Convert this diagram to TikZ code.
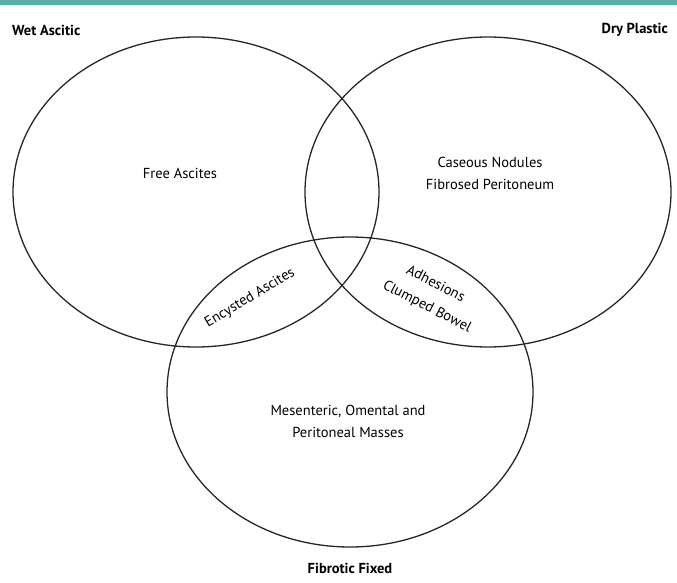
\documentclass[tikz,border=0pt]{standalone}
\usepackage{fontspec}
\setmainfont{PT Sans}
\definecolor{barteal}{RGB}{88,174,164}
\begin{document}
\begin{tikzpicture}[x=1pt,y=-1pt]
\useasboundingbox (0,0) rectangle (677,583);
\fill[barteal] (0,0) rectangle (677,5);
\draw[line width=1.3pt, black!85] (196,192) ellipse [x radius=183, y radius=155];
\draw[line width=1.3pt, black!85] (488,192) ellipse [x radius=183, y radius=155];
\draw[line width=1.3pt, black!85] (350,392) ellipse [x radius=183, y radius=155];
\node[font=\bfseries\fontsize{14.5}{17}\selectfont, anchor=west, inner sep=0pt] (wet) at (12,30){Wet Ascitic};
\node[font=\bfseries\fontsize{14.5}{17}\selectfont, anchor=east, inner sep=0pt] (dry) at (668,30){Dry Plastic};
\node[font=\bfseries\fontsize{14.5}{17}\selectfont] (fib) at (350,568){Fibrotic Fixed};
\node[font=\fontsize{14.5}{22}\selectfont] (free) at (180,173){Free Ascites};
\node[font=\fontsize{14.5}{22}\selectfont, align=center] (cas) at (490,173){Caseous Nodules\\Fibrosed Peritoneum};
\node[font=\fontsize{14.5}{22}\selectfont, align=center] (mes) at (348,421){Mesenteric, Omental and\\Peritoneal Masses};
\node[font=\fontsize{14.5}{22}\selectfont, rotate=31, inner sep=0pt] (enc) at (250,298){Encysted Ascites};
\node[font=\fontsize{14.5}{22}\selectfont, rotate=-27, inner sep=0pt] (adh) at (436,283){Adhesions};
\node[font=\fontsize{14.5}{22}\selectfont, rotate=-27, inner sep=0pt] (clb) at (427,307){Clumped Bowel};
\end{tikzpicture}
\end{document}
